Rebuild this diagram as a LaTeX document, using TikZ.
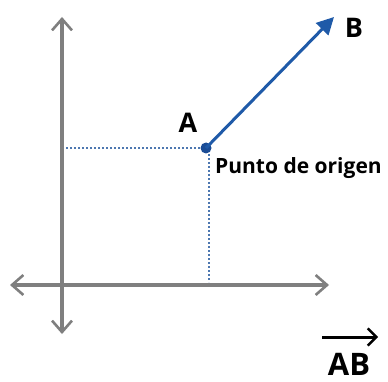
\documentclass[tikz,border=0pt]{standalone}
\usepackage{fontspec}
\setmainfont{Open Sans}
\usepackage{tikz}
\usetikzlibrary{arrows.meta,positioning,calc}
\definecolor{Axis}{HTML}{7F7F7F}
\definecolor{Vec}{HTML}{1F5AA8}
\definecolor{Dot}{HTML}{1A4C96}
\definecolor{Guide}{HTML}{4D77B0}
\tikzset{
  axis/.style={line width=3.2pt,draw=Axis,{Straight Barb[length=4mm,width=7mm,line width=2.6pt]}-{Straight Barb[length=4mm,width=7mm,line width=2.6pt]}},
  vec/.style={-{Triangle[length=6mm,width=6mm]},line width=3pt,draw=Vec},
  guide/.style={draw=Guide,line width=2pt,dash pattern=on 1.8pt off 2.2pt},
  lbl/.style={font=\bfseries\fontsize{27}{29}\selectfont,inner sep=0pt},
  note/.style={font=\bfseries\fontsize{21}{23}\selectfont,inner sep=0pt}
}
\begin{document}
\begin{tikzpicture}[x=1pt,y=-1pt]
  \useasboundingbox (0,0) rectangle (388,382);
  % axes
  \coordinate (ytop) at (62,17);
  \coordinate (ybot) at (62,334);
  \coordinate (xl) at (10,285);
  \coordinate (xr) at (329,285);
  \draw[axis] (ybot) -- (ytop);
  \draw[axis] (xl) -- (xr);

  % origin point and tip
  \node[circle,fill=Dot,inner sep=0pt,minimum size=11pt] (A) at (206,148) {};
  \coordinate (Btip) at (334,17);
  \coordinate (ya) at (66,148);
  \coordinate (xa) at (209,282);

  \draw[guide] (ya) -- (A.west);
  \draw[guide] (209,154) coordinate (As) -- (xa);
  \draw[vec] (A.center) -- (Btip);

  \node[lbl] (labA) at (188,123) {A};
  \node[lbl] (labB) at (354,28) {B};
  \node[note,anchor=base west] (orig) at (215,174) {Punto de origen};

  % vector name
  \node[lbl,font=\bfseries\fontsize{31}{33}\selectfont,anchor=base] (AB) at (349,375) {AB};
  \draw[-{Straight Barb[length=3mm,width=6mm,line width=2.4pt]},line width=3pt,black] (322,337) -- (378,337);
\end{tikzpicture}
\end{document}
